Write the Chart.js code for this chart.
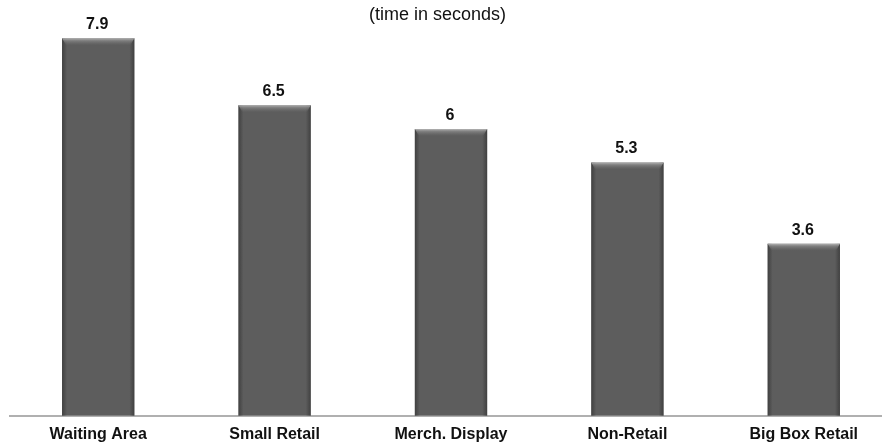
<!DOCTYPE html>
<html>
<head>
<meta charset="utf-8">
<script src="https://cdn.jsdelivr.net/npm/chart.js@4.4.1/dist/chart.umd.min.js"></script>
<style>
  html, body { margin: 0; padding: 0; background: #ffffff; overflow: hidden; }
  #wrap { position: relative; width: 892px; height: 456px; }
  #title {
    position: absolute; top: 4px; left: 0; width: 875px; text-align: center;
    font-family: "Liberation Sans", Arial, sans-serif; font-size: 18px; color: #111;
  }
</style>
</head>
<body>
<div id="wrap">
  <canvas id="chart" width="892" height="456"></canvas>
  <div id="title">(time in seconds)</div>
</div>
<script>
// Average dwell time by location type
const categories = ['Waiting Area', 'Small Retail', 'Merch. Display', 'Non-Retail', 'Big Box Retail'];
const dwellSeconds = [7.9, 6.5, 6, 5.3, 3.6];

const FONT = '"Liberation Sans", Arial, sans-serif';

// Bevel shading on each bar plus the value printed above it
const barDecor = {
  id: 'barDecor',
  afterDatasetsDraw(chart) {
    const ctx = chart.ctx;
    const meta = chart.getDatasetMeta(0);
    meta.data.forEach((bar, i) => {
      const { x, y, base, width } = bar.getProps(['x', 'y', 'base', 'width'], true);
      const l = x - width / 2, r = x + width / 2;
      ctx.save();
      // side edges
      let g = ctx.createLinearGradient(l, 0, l + 5, 0);
      g.addColorStop(0, 'rgba(40,40,40,0.55)');
      g.addColorStop(1, 'rgba(40,40,40,0)');
      ctx.fillStyle = g;
      ctx.fillRect(l, y, 5, base - y);
      g = ctx.createLinearGradient(r, 0, r - 5, 0);
      g.addColorStop(0, 'rgba(40,40,40,0.55)');
      g.addColorStop(1, 'rgba(40,40,40,0)');
      ctx.fillStyle = g;
      ctx.fillRect(r - 5, y, 5, base - y);
      // top bevel
      g = ctx.createLinearGradient(0, y, 0, y + 7);
      g.addColorStop(0, 'rgba(190,190,190,0.9)');
      g.addColorStop(0.35, 'rgba(150,150,150,0.6)');
      g.addColorStop(1, 'rgba(120,120,120,0)');
      ctx.fillStyle = g;
      ctx.beginPath();
      ctx.moveTo(l, y);
      ctx.lineTo(r, y);
      ctx.lineTo(r - 4, y + 7);
      ctx.lineTo(l + 4, y + 7);
      ctx.closePath();
      ctx.fill();
      // value label
      ctx.fillStyle = '#111';
      ctx.font = 'bold 16px ' + FONT;
      ctx.textAlign = 'center';
      ctx.textBaseline = 'alphabetic';
      ctx.fillText(String(chart.data.datasets[0].data[i]), x - 1, y - 9);
      ctx.restore();
    });
  }
};

new Chart(document.getElementById('chart'), {
  type: 'bar',
  data: {
    labels: categories,
    datasets: [{
      data: dwellSeconds,
      backgroundColor: '#5d5d5d',
      borderWidth: 0,
      barPercentage: 0.41,
      categoryPercentage: 1
    }]
  },
  options: {
    responsive: false,
    animation: false,
    layout: { padding: { left: 10, right: 0, top: 0, bottom: 3 } },
    plugins: {
      legend: { display: false },
      tooltip: { enabled: false },
      title: { display: false }
    },
    scales: {
      x: {
        grid: { display: false, drawTicks: false },
        border: { display: true, color: '#b0b0b0', width: 2 },
        ticks: {
          color: '#111',
          padding: 9,
          font: { family: FONT, size: 16, weight: 'bold' },
          maxRotation: 0,
          autoSkip: false
        }
      },
      y: {
        display: false,
        min: 0,
        max: 8.7
      }
    }
  },
  plugins: [barDecor]
});
</script>
</body>
</html>
